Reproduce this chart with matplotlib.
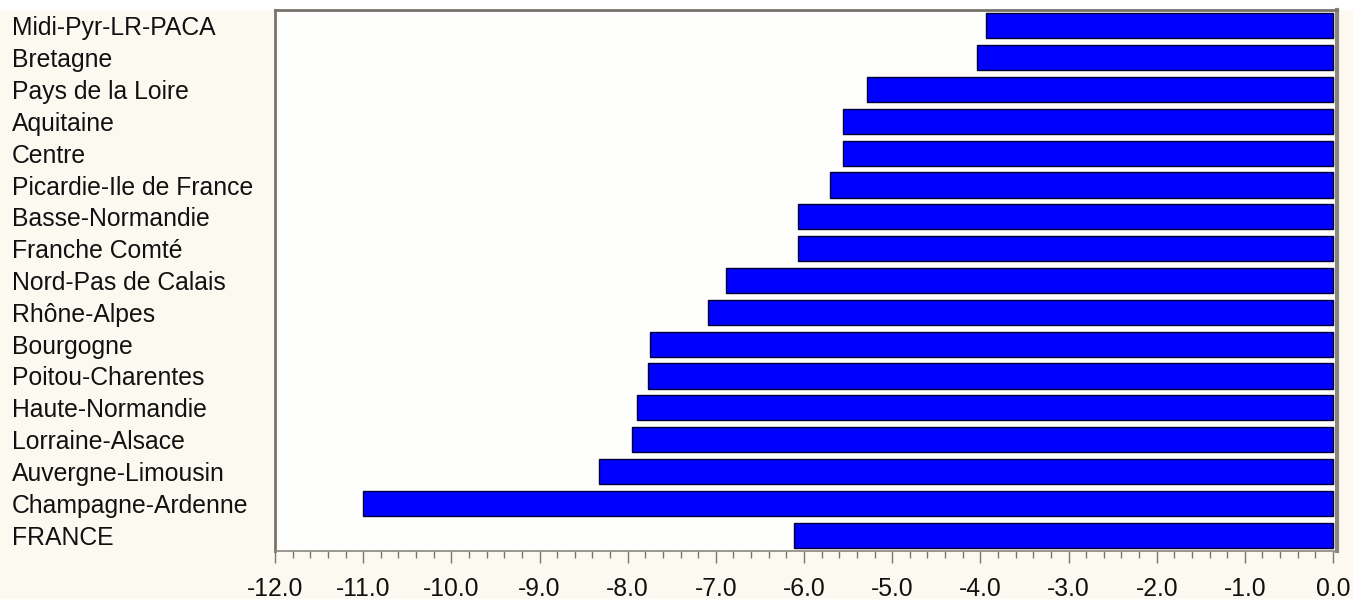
import matplotlib
matplotlib.use("Agg")
import matplotlib.pyplot as plt
from matplotlib.ticker import MultipleLocator, FormatStrFormatter

regions = ["Midi-Pyr-LR-PACA", "Bretagne", "Pays de la Loire", "Aquitaine", "Centre",
           "Picardie-Ile de France", "Basse-Normandie", "Franche Comté", "Nord-Pas de Calais",
           "Rhône-Alpes", "Bourgogne", "Poitou-Charentes", "Haute-Normandie",
           "Lorraine-Alsace", "Auvergne-Limousin", "Champagne-Ardenne", "FRANCE"]
values = [-3.94, -4.04, -5.29, -5.56, -5.56, -5.70, -6.07, -6.07, -6.88,
          -7.09, -7.75, -7.77, -7.89, -7.95, -8.32, -11.00, -6.11]
xticks = [-12.0, -11.0, -10.0, -9.0, -8.0, -7.0, -6.0, -5.0, -4.0, -3.0, -2.0, -1.0, 0.0]

plt.rcParams['font.family'] = ['Liberation Sans', 'DejaVu Sans']

W, H = 1353, 599
fig = plt.figure(figsize=(W / 100, H / 100), dpi=100)
fig.patch.set_facecolor('#FCF9F1')
# white strip at the very top
fig.add_artist(plt.Rectangle((0, 1 - 9 / H), 1, 9 / H, transform=fig.transFigure,
                             color='white', zorder=0))

ax = fig.add_axes([275 / W, 1 - 551 / H, (1337 - 275) / W, (551 - 10) / H])
ax.set_facecolor('#FEFEFC')

n = len(regions)
ypos = list(range(n))
ax.barh(ypos, values, height=0.79, color='#0000FF', edgecolor='#000033', linewidth=1.0,
        zorder=3)
ax.set_ylim(n - 0.5, -0.5)
ax.set_xlim(-12.0, 0.045)

fs = 17.8
ax.set_yticks(ypos)
ax.set_yticklabels(regions, ha='left', fontsize=fs, color='#111111')
ax.tick_params(axis='y', length=0, pad=(275 - 12) * 0.72)

ax.set_xticks(xticks)
ax.xaxis.set_major_formatter(FormatStrFormatter('%.1f'))
ax.xaxis.set_minor_locator(MultipleLocator(0.2))
ax.tick_params(axis='x', which='major', length=8.5, width=1.0, color='#7a766e',
               labelsize=fs, pad=10, labelcolor='#111111')
ax.tick_params(axis='x', which='minor', length=5, width=1.0, color='#7a766e')

for side in ['left', 'top']:
    ax.spines[side].set_color('#77736a')
    ax.spines[side].set_linewidth(2.0)
ax.spines['right'].set_color('#8a8780')
ax.spines['right'].set_linewidth(3.0)
ax.spines['bottom'].set_color('#8a8780')
ax.spines['bottom'].set_linewidth(1.2)

fig.savefig('out.png', dpi=100, facecolor=fig.get_facecolor())
